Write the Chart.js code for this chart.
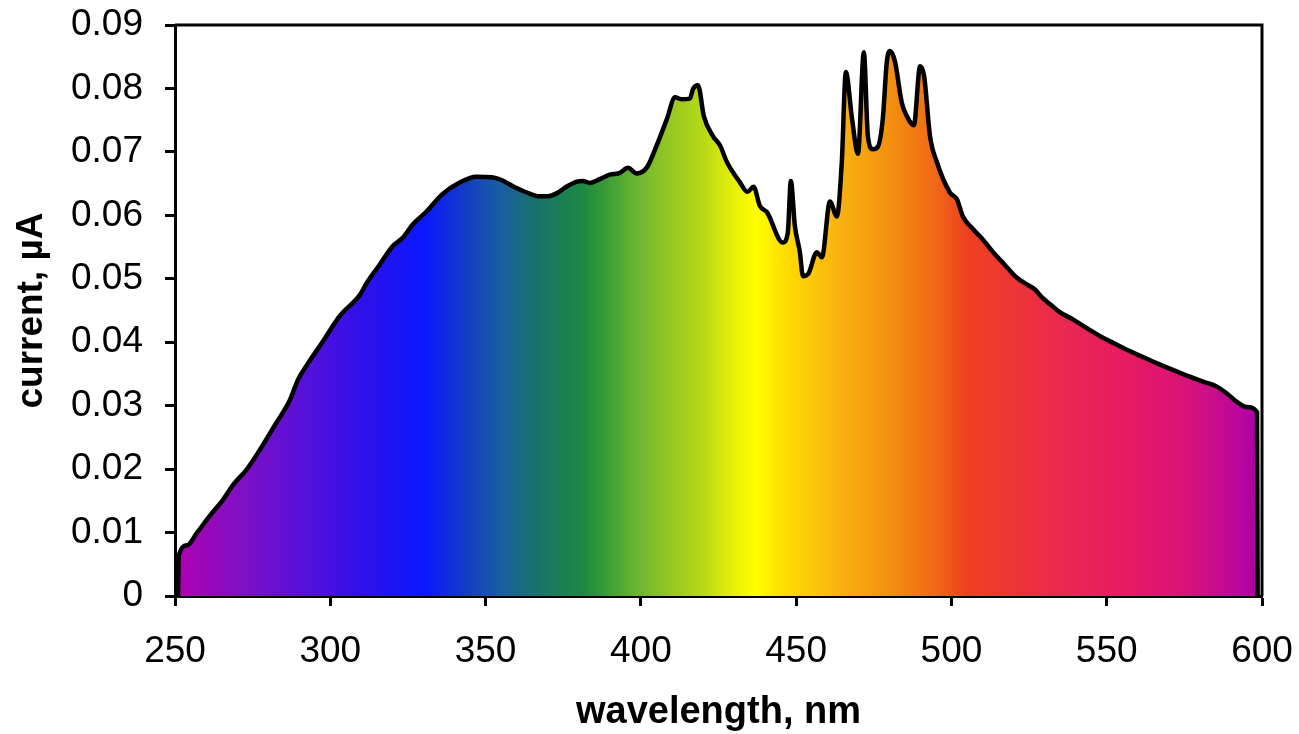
<!DOCTYPE html>
<html>
<head>
<meta charset="utf-8">
<script src="https://cdn.jsdelivr.net/npm/chart.js@4"></script>
<style>
  html, body { margin: 0; padding: 0; background: #fff; }
  #wrap { width: 1299px; height: 734px; }
</style>
</head>
<body>
<div id="wrap"><canvas id="spectrum"></canvas></div>
<script>
// wavelength (nm) and photocurrent (uA)
const wavelength = [
  251, 251.2, 254, 257, 261, 265.5, 269, 273, 277.4, 282, 287, 289.6, 293, 297.6,
  303, 309.6, 311.8, 316, 320, 323.4, 326.6, 331, 336, 341.8, 347, 352, 355,
  358.8, 363.3, 367.5, 370, 373, 376, 379.4, 381.4, 383.6, 386.8, 390, 393.3,
  395.8, 398.7, 402, 405, 408.4, 411, 413, 415.8, 416.8, 418.4, 420.3, 423.2,
  425.5, 427.7, 431.9, 434.3, 436.3, 438.3, 440.6, 445.7, 447.3, 448.3, 449.6,
  451.2, 452.2, 453.8, 456.7, 458.3, 460.9, 463.1, 464.7, 466, 468, 469.9,
  471.8, 473.1, 474.7, 476.3, 477.9, 479.2, 480.2, 481.8, 484, 485.7, 487.9,
  489.9, 491.2, 493.1, 495.3, 499.5, 501.8, 503.7, 507, 510.1, 513.4, 517,
  521, 524, 526.9, 529.1, 532, 535, 539.1, 544, 548.8, 552.5, 556.5, 562,
  567, 574, 581, 585.5, 589, 591.9, 595, 598.4, 598.6
];
const current = [
  0, 0.0063, 0.0080, 0.0099, 0.0125, 0.0152, 0.0177, 0.0199, 0.0231, 0.0268,
  0.0309, 0.0341, 0.0368, 0.0401, 0.0441, 0.0475, 0.0494, 0.0523, 0.0551,
  0.0565, 0.0586, 0.0606, 0.0633, 0.0652, 0.0661, 0.0660, 0.0656, 0.0646,
  0.0636, 0.0630, 0.0630, 0.0635, 0.0645, 0.0653, 0.0654, 0.0651, 0.0657,
  0.0664, 0.0667, 0.0675, 0.0666, 0.0676, 0.0709, 0.0752, 0.0786, 0.0783,
  0.0784, 0.0799, 0.0805, 0.0756, 0.0725, 0.0710, 0.0684, 0.0652, 0.0637,
  0.0645, 0.0615, 0.0605, 0.0557, 0.0572, 0.0654, 0.0583, 0.0542, 0.0504,
  0.0507, 0.0542, 0.0534, 0.0622, 0.0598, 0.0684, 0.0826, 0.0752, 0.0697,
  0.0857, 0.0725, 0.0704, 0.0708, 0.0752, 0.0842, 0.0859, 0.0843, 0.0778,
  0.0756, 0.0742, 0.0835, 0.0820, 0.0725, 0.0684, 0.0636, 0.0625, 0.0598,
  0.0578, 0.0562, 0.0542, 0.0523, 0.0502, 0.0492, 0.0483, 0.0471, 0.0459,
  0.0447, 0.0436, 0.0421, 0.0407, 0.0398, 0.0388, 0.0376, 0.0365, 0.0351,
  0.0338, 0.0330, 0.0318, 0.0306, 0.0298, 0.0290, 0
];
const xTicks = [250, 300, 350, 400, 450, 500, 550, 600];
const yTicks = [0, 0.01, 0.02, 0.03, 0.04, 0.05, 0.06, 0.07, 0.08, 0.09];

// spectrum colours for the fill, keyed by wavelength
const spectrumStops = [
  [250, "#b000b0"], [270, "#8210c4"], [290, "#5a10d8"], [310, "#3010ea"],
  [330, "#0a18ff"], [345, "#1540c0"], [355, "#1a5ea0"], [365, "#1a7070"],
  [375, "#1a8052"], [382, "#1e8a40"], [390, "#40a035"], [400, "#70b830"],
  [410, "#98c820"], [420, "#b8d818"], [430, "#e8f008"], [437, "#ffff00"],
  [445, "#ffe000"], [455, "#fcc808"], [465, "#f8b010"], [480, "#f39010"],
  [495, "#f06818"], [505, "#ee4020"], [520, "#ec3535"], [535, "#e82a50"],
  [555, "#e81a62"], [575, "#d81478"], [590, "#c00898"], [600, "#a800a8"]
];

const FONT = "'Liberation Sans', Arial, sans-serif";

function spectrumFill(context) {
  const chart = context.chart;
  const { ctx, chartArea, scales } = chart;
  if (!chartArea) return null;
  const x0 = scales.x.getPixelForValue(250);
  const x1 = scales.x.getPixelForValue(600);
  const g = ctx.createLinearGradient(x0, 0, x1, 0);
  spectrumStops.forEach(([nm, c]) => g.addColorStop((nm - 250) / 350, c));
  return g;
}

// top and right edges of the plot box
const frame = {
  id: "frame",
  afterDatasetsDraw(chart) {
    const { ctx, chartArea: a } = chart;
    ctx.save();
    ctx.strokeStyle = "#000";
    ctx.lineWidth = 3;
    ctx.beginPath();
    ctx.moveTo(a.left, a.top);
    ctx.lineTo(a.right, a.top);
    ctx.lineTo(a.right, a.bottom);
    ctx.stroke();
    ctx.restore();
  }
};

function createChart() {
  const ctx = document.getElementById("spectrum").getContext("2d");
  new Chart(ctx, {
    type: "line",
    data: {
      datasets: [{
        data: wavelength.map((w, i) => ({ x: w, y: current[i] })),
        borderColor: "#000",
        borderWidth: 4.5,
        backgroundColor: spectrumFill,
        fill: "origin",
        pointRadius: 0,
        cubicInterpolationMode: "monotone"
      }]
    },
    options: {
      responsive: true,
      maintainAspectRatio: false,
      animation: false,
      layout: { padding: { top: 25, right: 37, left: 0, bottom: 0 } },
      plugins: { legend: { display: false }, tooltip: { enabled: false } },
      scales: {
        x: {
          type: "linear",
          min: 250,
          max: 600,
          afterBuildTicks: (s) => { s.ticks = xTicks.map(v => ({ value: v })); },
          afterFit: (s) => { s.height = 138; s.paddingLeft = 0; s.paddingRight = 0; },
          grid: { drawOnChartArea: false, drawTicks: true, tickLength: 10, tickWidth: 3, color: "#000" },
          border: { display: true, width: 3, color: "#000" },
          ticks: { color: "#000", padding: 24, font: { family: FONT, size: 37 } },
          title: {
            display: true, text: "wavelength, nm", color: "#000",
            padding: { top: 0, bottom: -1 },
            font: { family: FONT, size: 38, weight: "bold" }
          }
        },
        y: {
          min: 0,
          max: 0.09,
          afterBuildTicks: (s) => { s.ticks = yTicks.map(v => ({ value: v })); },
          afterFit: (s) => { s.width = 175; s.paddingTop = 0; s.paddingBottom = 0; },
          grid: { drawOnChartArea: false, drawTicks: true, tickLength: 10, tickWidth: 3, color: "#000" },
          border: { display: true, width: 3, color: "#000" },
          ticks: {
            color: "#000", padding: 22, font: { family: FONT, size: 37 },
            callback: (v) => (v === 0 ? "0" : v.toFixed(2))
          },
          title: {
            display: true, text: "current, \u00b5A", color: "#000",
            padding: { top: 10, bottom: 0 },
            font: { family: FONT, size: 37, weight: "bold" }
          }
        }
      }
    },
    plugins: [frame]
  });
}

document.addEventListener("DOMContentLoaded", function () {
  createChart();
});
</script>
</body>
</html>
